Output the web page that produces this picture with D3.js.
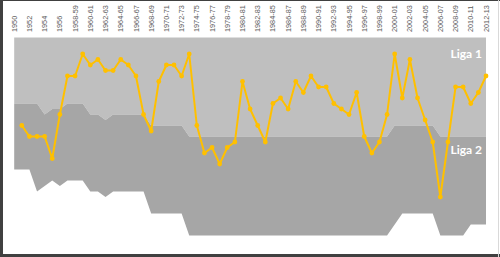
<!DOCTYPE html>
<html>
<head>
<meta charset="utf-8">
<script src="https://cdn.jsdelivr.net/npm/d3@7"></script>
<style>
  body { margin: 0; background: #fff; }
  svg { display: block; }
</style>
</head>
<body>
<div id="chart"></div>
<script>
// League positions per season, with Liga 1 / Liga 2 bands
const width = 500, height = 257;

const seasons = [
  "1950", "1951", "1952", "1953", "1954", "1955", "1956", "1957",
  "1958-59", "1959-60", "1960-61", "1961-62", "1962-63", "1963-64", "1964-65", "1965-66",
  "1966-67", "1967-68", "1968-69", "1969-70", "1970-71", "1971-72", "1972-73", "1973-74",
  "1974-75", "1975-76", "1976-77", "1977-78", "1978-79", "1979-80", "1980-81", "1981-82",
  "1982-83", "1983-84", "1984-85", "1985-86", "1986-87", "1987-88", "1988-89", "1989-90",
  "1990-91", "1991-92", "1992-93", "1993-94", "1994-95", "1995-96", "1996-97", "1997-98",
  "1998-99", "1999-00", "2000-01", "2001-02", "2002-03", "2003-04", "2004-05", "2005-06",
  "2006-07", "2007-08", "2008-09", "2009-10", "2010-11", "2011-12", "2012-13"
];

// number of teams in each division
const liga1Teams = [
  10, 10, 10, 10, 12, 11, 11, 10, 10, 10, 12, 12, 13, 12, 12, 12,
  12, 12, 14, 14, 14, 14, 14, 16, 16, 16, 16, 16, 16, 16, 16, 16,
  16, 16, 16, 16, 16, 16, 16, 16, 16, 16, 16, 16, 16, 16, 16, 16,
  16, 16, 14, 14, 14, 14, 14, 14, 16, 16, 16, 16, 16, 16, 16
];
const liga2Teams = [
  12, 12, 12, 16, 13, 13, 14, 14, 14, 14, 14, 14, 14, 14, 14, 14,
  14, 14, 16, 16, 16, 16, 16, 18, 18, 18, 18, 18, 18, 18, 18, 18,
  18, 18, 18, 18, 18, 18, 18, 18, 18, 18, 18, 18, 18, 18, 18, 18,
  18, 18, 18, 16, 16, 16, 16, 16, 18, 18, 18, 18, 16, 16, 16
];

// overall finishing position (Liga 2 places counted after Liga 1)
const positions = [
  null, 14, 16, 16, 16, 20, 12, 5, 5, 1, 3, 2, 4, 4, 2, 3,
  5, 12, 15, 6, 3, 3, 5, 1, 14, 19, 18, 21, 18, 17, 6, 11,
  14, 17, 10, 9, 11, 6, 8, 5, 7, 7, 10, 11, 12, 8, 16, 19,
  17, 12, 1, 9, 2, 9, 13, 17, 27, 17, 7, 7, 10, 8, 5
];

const tickLabels = seasons.filter((s, i) => i % 2 === 0);
const topPos = -2;

const svg = d3.select("#chart").append("svg")
  .attr("width", width).attr("height", height).attr("viewBox", `0 0 ${width} ${height}`);

const x = d3.scalePoint().domain(seasons).range([14.2, 486]);
const y = d3.scaleLinear().domain([topPos, 34]).range([37.5, 235.5]);

const rows = seasons.map((s, i) => ({
  season: s,
  l1: liga1Teams[i],
  l2: liga1Teams[i] + liga2Teams[i],
  pos: positions[i]
}));

// bands
svg.append("path").datum(rows)
  .attr("fill", "#bfbfbf")
  .attr("d", d3.area().x(d => x(d.season)).y0(y(topPos)).y1(d => y(d.l1)));
svg.append("path").datum(rows)
  .attr("fill", "#a6a6a6")
  .attr("d", d3.area().x(d => x(d.season)).y0(d => y(d.l1)).y1(d => y(d.l2)));

// season labels along the top
svg.append("g").selectAll("text").data(tickLabels).join("text")
  .attr("transform", d => `translate(${x(d)},32) rotate(-90)`)
  .attr("dy", "0.35em")
  .attr("text-anchor", "start")
  .attr("font-family", "'Liberation Sans', Arial, sans-serif")
  .attr("font-size", 7.3)
  .attr("fill", "#595959")
  .text(d => d);

// position line
const pts = rows.filter(d => d.pos != null);
svg.append("path").datum(pts)
  .attr("fill", "none").attr("stroke", "#ffc000").attr("stroke-width", 2)
  .attr("stroke-linejoin", "round")
  .attr("d", d3.line().x(d => x(d.season)).y(d => y(d.pos)));
svg.append("g").selectAll("circle").data(pts).join("circle")
  .attr("cx", d => x(d.season)).attr("cy", d => y(d.pos)).attr("r", 2.4)
  .attr("fill", "#ffc000");

// division names
svg.append("text").attr("x", 482).attr("y", 57.5)
  .attr("text-anchor", "end").attr("font-family", "Lato, 'Open Sans', sans-serif")
  .attr("font-weight", "bold").attr("font-size", 12).attr("fill", "#fff").text("Liga 1");
svg.append("text").attr("x", 482).attr("y", 153.5)
  .attr("text-anchor", "end").attr("font-family", "Lato, 'Open Sans', sans-serif")
  .attr("font-weight", "bold").attr("font-size", 12).attr("fill", "#fff").text("Liga 2");

// frame
svg.append("line").attr("x1", 0).attr("x2", width).attr("y1", 0.5).attr("y2", 0.5)
  .attr("stroke", "#404040").attr("stroke-width", 1);
svg.append("line").attr("x1", 1.5).attr("x2", 1.5).attr("y1", 0).attr("y2", height)
  .attr("stroke", "#404040").attr("stroke-width", 3);
svg.append("line").attr("x1", 0).attr("x2", width).attr("y1", 255.5).attr("y2", 255.5)
  .attr("stroke", "#404040").attr("stroke-width", 3);
svg.append("line").attr("x1", 498.5).attr("x2", 498.5).attr("y1", 0).attr("y2", height)
  .attr("stroke", "#d9d9d9").attr("stroke-width", 1);
</script>
</body>
</html>
